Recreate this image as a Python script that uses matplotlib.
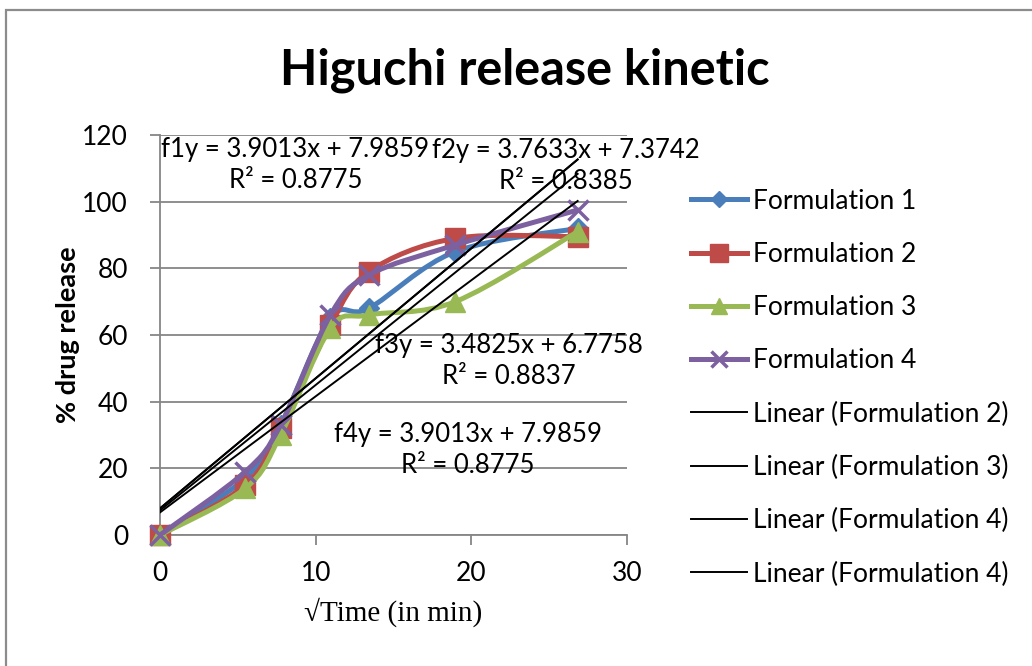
import numpy as np
import matplotlib
matplotlib.use("Agg")
import matplotlib.pyplot as plt
from matplotlib.path import Path
from matplotlib.patches import PathPatch, Rectangle
from matplotlib.lines import Line2D

# sqrt(time) values and % release
sqrt_time = [0, 5.48, 7.75, 10.95, 13.42, 18.97, 26.83]
f1 = [0, 17, 33, 65, 68, 85, 92]
f2 = [0, 15, 32, 63, 79, 89, 89.5]
f3 = [0, 14, 30, 62, 66, 70, 91]
f4 = [0, 19, 33, 66, 78, 87, 97.5]

series_names = ["Formulation 1", "Formulation 2", "Formulation 3", "Formulation 4"]
trend_slopes = [3.9013, 3.7633, 3.4825, 3.9013]
trend_icepts = [7.9859, 7.3742, 6.7758, 7.9859]
trend_labels = ["f1y = 3.9013x + 7.9859\nR² = 0.8775",
                "f2y = 3.7633x + 7.3742\nR² = 0.8385",
                "f3y = 3.4825x + 6.7758\nR² = 0.8837",
                "f4y = 3.9013x + 7.9859\nR² = 0.8775"]
trend_legend = ["Linear (Formulation 2)", "Linear (Formulation 3)",
                "Linear (Formulation 4)", "Linear (Formulation 4)"]

colors = ["#4A7EBB", "#BE4B48", "#98B954", "#7D60A0"]
markers = ["D", "s", "^", "x"]
msizes = [10, 15, 14, 14]

plt.rcParams['font.family'] = ['Lato', 'DejaVu Sans']


def smooth_path(xs, ys):
    # excel style smoothed line, drawn as cubic bezier through the points
    pts = np.column_stack([xs, ys]).astype(float)
    verts = [pts[0]]
    codes = [Path.MOVETO]
    n = len(pts)
    for i in range(n - 1):
        p0 = pts[i - 1] if i > 0 else pts[i]
        p1 = pts[i]
        p2 = pts[i + 1]
        p3 = pts[i + 2] if i + 2 < n else pts[i + 1]
        c1 = p1 + (p2 - p0) / 6.0
        c2 = p2 - (p3 - p1) / 6.0
        verts += [c1, c2, p2]
        codes += [Path.CURVE4] * 3
    return Path(verts, codes)


fig = plt.figure(figsize=(10.32, 6.66), dpi=100)
fig.patches.append(Rectangle((6 / 1032, -0.1), 1.1, 1 - 10 / 666 + 0.1, transform=fig.transFigure,
                             fill=False, edgecolor="#8c8c8c", linewidth=1.6))
ax = fig.add_axes([160 / 1032, 1 - 535 / 666, 467 / 1032, 400 / 666])

for i, ys in enumerate([f1, f2, f3, f4]):
    ax.add_patch(PathPatch(smooth_path(sqrt_time, ys), fill=False, edgecolor=colors[i],
                           linewidth=3.6, zorder=3 + i, capstyle='round', joinstyle='round'))
    ax.plot(sqrt_time, ys, linestyle='none', marker=markers[i], markersize=msizes[i],
            color=colors[i], markeredgecolor=colors[i], markeredgewidth=2.5 if markers[i] == 'x' else 1,
            zorder=3 + i, clip_on=False)

xfit = np.array([0, sqrt_time[-1]])
for s, b in zip(trend_slopes, trend_icepts):
    ax.plot(xfit, s * xfit + b, color='black', linewidth=1.4, zorder=8)

text_pos = [(8.7, 111), (26.1, 110.7), (22.4, 52.2), (19.8, 25.5)]
for (tx, ty), lab in zip(text_pos, trend_labels):
    ax.text(tx, ty, lab, ha='center', va='center', multialignment='center',
            fontsize=18.5, zorder=10, clip_on=False, linespacing=1.3)

ax.set_xlim(0, 30)
ax.set_ylim(0, 120)
ax.set_xticks([0, 10, 20, 30])
ax.set_yticks(range(0, 121, 20))
ax.grid(axis='y', color='#868686', linewidth=1.3)
ax.set_axisbelow(True)
for side in ['top', 'right']:
    ax.spines[side].set_visible(False)
for side in ['left', 'bottom']:
    ax.spines[side].set_color('#868686')
    ax.spines[side].set_linewidth(1.3)
ax.tick_params(axis='both', colors='#868686', labelcolor='black', labelsize=19, length=7, width=1.3)
ax.tick_params(axis='x', pad=12)
ax.tick_params(axis='y', pad=16)

ax.set_xlabel("√Time (in min)", family=['Liberation Serif', 'DejaVu Serif'], fontsize=21, labelpad=8)
ax.set_ylabel("% drug release", fontsize=19.5, fontweight='bold')
ax.yaxis.set_label_coords(-0.172, 0.5)
fig.text(525 / 1032, 1 - 70 / 666, "Higuchi release kinetic", ha='center', va='center',
         fontsize=35, fontweight='bold')

handles = []
for i in range(4):
    handles.append(Line2D([], [], color=colors[i], linewidth=3.6, marker=markers[i],
                          markersize=msizes[i] - 2, markeredgewidth=2.5 if markers[i] == 'x' else 1))
for i in range(4):
    handles.append(Line2D([], [], color='black', linewidth=1.4))
fig.legend(handles, series_names + trend_legend, loc='upper left',
           bbox_to_anchor=(680 / 1032, 1 - 178 / 666), frameon=False, fontsize=19,
           handlelength=2.15, handletextpad=0.2, labelspacing=1.07, borderaxespad=0)

fig.savefig("out.png", dpi=100)
